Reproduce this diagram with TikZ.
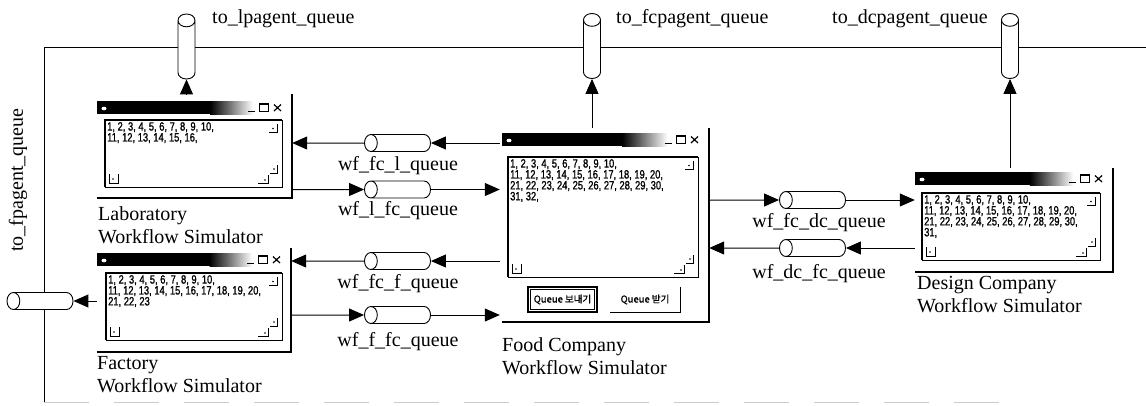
\documentclass[tikz,border=0pt]{standalone}
\usepackage{fontspec}
\setmainfont{Liberation Serif}
\newfontfamily\numfam[FakeStretch=0.78,FakeBold=1.2]{Liberation Sans}
\newfontfamily\krfam[FakeBold=1.2]{Noto Sans CJK KR}
\usetikzlibrary{shapes.geometric,arrows.meta,fit,calc}

\newcommand\simwin[5]{% x1,y1,x2,y2,title top
  \draw[winedge] (#3,#2) -- (#3,#4) -- (#1,#4);
  \fill[black] (#1,#5) rectangle ({#1+(#3-#1)*0.58},#5+13);
  \shade[left color=black,right color=white] ({#1+(#3-#1)*0.58},#5) rectangle ({#1+(#3-#1)*0.8},#5+13);
  \fill[white] (#1+7,#5+7.5) ellipse (2.5 and 1.8);
  \draw[line width=1.3] (#3-44,#5+10.5) -- (#3-37,#5+10.5);
  \draw[line width=0.9] (#3-33,#5+2.5) rectangle (#3-24,#5+10.5);
  \draw[line width=1.6] (#3-33,#5+3) -- (#3-24,#5+3);
  \draw[line width=1.2] (#3-18,#5+3.5) -- (#3-11,#5+10) (#3-18,#5+10) -- (#3-11,#5+3.5);
}
\newcommand\simtextbox[4]{% x1,y1,x2,y2
  \draw[line width=0.7] (#1,#2) rectangle (#3,#4);
  \draw[line width=1.5] (#1,#4) -- (#1,#2) -- (#3,#2);
  \draw[scrollmark] (#3-13,#2+12) -- (#3-5,#2+12) -- (#3-5,#2+4);
  \fill (#3-9,#2+8.5) circle (0.9);
  \draw[scrollmark] (#3-12,#4-14) -- (#3-5,#4-14) -- (#3-5,#4-22);
  \fill (#3-8,#4-18) circle (0.9);
  \draw[scrollmark] (#3-24,#4-4) -- (#3-14,#4-4) -- (#3-14,#4-12);
  \fill (#3-17,#4-7) circle (0.9);
  \draw[scrollmark] (#1+4,#4-13) -- (#1+4,#4-4) -- (#1+13,#4-4) -- (#1+13,#4-13);
  \fill (#1+8,#4-8) circle (0.9);
}

\begin{document}
\begin{tikzpicture}[x=1pt,y=-1pt,
  lbl/.style={font=\fontsize{20}{23}\selectfont,inner sep=0pt,align=left},
  nums/.style={font=\numfam\fontsize{12}{9.8}\selectfont,inner sep=0pt,align=left,anchor=north west},
  arr/.style={line width=1,-{Triangle[length=15pt,width=13pt]}},
  hq/.style={cylinder,shape border rotate=180,draw,fill=white,line width=0.9,minimum width=17pt,minimum height=66pt,aspect=0.8,inner xsep=0pt,inner ysep=8pt,anchor=shape center},
  vq/.style={cylinder,shape border rotate=90,draw,fill=white,line width=0.9,minimum width=17pt,minimum height=65pt,aspect=0.8,inner xsep=8pt,inner ysep=0pt,anchor=shape center},
  winedge/.style={line width=1.6},
  scrollmark/.style={line width=1},
  win/.style={inner sep=0pt}]
\useasboundingbox (0,0) rectangle (1146,405);

% bus
\draw[line width=0.8] (1146,47) -- (44,47) -- (44,402);
\draw[line width=0.6,gray!40,dash pattern=on 45pt off 25pt] (44,402) -- (1000,402);

% windows
\node[win,fit={(97,94) (292,198)}] (lab) {};
\simwin{97}{94}{292}{198}{101}
\simtextbox{105}{120}{282}{187}
\node[nums] (labtxt) at (107,122) {1, 2, 3, 4, 5, 6, 7, 8, 9, 10,\\11, 12, 13, 14, 15, 16,};

\node[win,fit={(97,248) (291,352)}] (fact) {};
\simwin{97}{248}{291}{352}{253}
\simtextbox{106}{273}{282}{340}
\node[nums] (facttxt) at (108,275) {1, 2, 3, 4, 5, 6, 7, 8, 9, 10,\\11, 12, 13, 14, 15, 16, 17, 18, 19, 20,\\21, 22, 23};

\node[win,fit={(500,128) (709,322)}] (food) {};
\simwin{502}{128}{709}{322}{133}
\simtextbox{508}{157}{698}{277}
\node[nums] (foodtxt) at (510,159) {1, 2, 3, 4, 5, 6, 7, 8, 9, 10,\\11, 12, 13, 14, 15, 16, 17, 18, 19, 20,\\21, 22, 23, 24, 25, 26, 27, 28, 29, 30,\\31, 32,};
\draw[line width=1.6] (528,287) rectangle (597,312);
\draw[line width=0.6] (530.5,289.5) rectangle (594.5,309.5);
\node[inner sep=0pt,font=\krfam\fontsize{9.5}{10}\selectfont] (btnsend) at (562.5,299.5) {Queue 보내기};
\draw[line width=1] (610,312) -- (680,312) -- (680,287);
\node[inner sep=0pt,font=\krfam\fontsize{9.5}{10}\selectfont] (btnrecv) at (645,299.5) {Queue 받기};

\node[win,fit={(915,168) (1113,272)}] (dc) {};
\simwin{915}{168}{1113}{272}{172}
\simtextbox{922}{193}{1100}{260}
\node[nums] (dctxt) at (924,195) {1, 2, 3, 4, 5, 6, 7, 8, 9, 10,\\11, 12, 13, 14, 15, 16, 17, 18, 19, 20,\\21, 22, 23, 24, 25, 26, 27, 28, 29, 30,\\31,};

% window labels
\node[lbl,anchor=north west] (lablbl) at (98,206) {Laboratory\\Workflow Simulator};
\node[lbl,anchor=north west] (factlbl) at (97,356) {Factory\\Workflow Simulator};
\node[lbl,anchor=north west] (foodlbl) at (502,337) {Food Company\\Workflow Simulator};
\node[lbl,anchor=north west] (dclbl) at (917,276) {Design Company\\Workflow Simulator};

% agent queues
\node[vq] (lpq) at (186.5,46.5) {};
\node[vq] (fcpq) at (592,46) {};
\node[vq] (dcpq) at (1010,46) {};
\node[hq] (fpq) at (40,301) {};
\node[lbl,anchor=base west] (lpqlbl) at (212,23) {to\_lpagent\_queue};
\node[lbl,anchor=base west] (fcpqlbl) at (616,23) {to\_fcpagent\_queue};
\node[lbl,anchor=base west] (dcpqlbl) at (832,23) {to\_dcpagent\_queue};
\node[lbl,rotate=90] (fpqlbl) at (18,180) {to\_fpagent\_queue};

% workflow queues
\node[hq] (fcl) at (397.5,143) {};
\node[hq] (lfc) at (397.5,189.5) {};
\node[hq] (fcf) at (397.5,261) {};
\node[hq] (ffc) at (397.5,315) {};
\node[hq] (fcdc) at (812.5,200) {};
\node[hq] (dcfc) at (812.5,248) {};
\node[lbl,anchor=base] (fcllbl) at (398,170) {wf\_fc\_l\_queue};
\node[lbl,anchor=base] (lfclbl) at (398,215) {wf\_l\_fc\_queue};
\node[lbl,anchor=base] (fcflbl) at (398,288) {wf\_fc\_f\_queue};
\node[lbl,anchor=base] (ffclbl) at (398,346) {wf\_f\_fc\_queue};
\node[lbl,anchor=base] (fcdclbl) at (819,227) {wf\_fc\_dc\_queue};
\node[lbl,anchor=base] (dcfclbl) at (819,278) {wf\_dc\_fc\_queue};

% connectors
\draw[arr] (lpq |- lab.north) -- (lpq.south);
\draw[arr] (fcpq |- food.north) -- (fcpq.south);
\draw[arr] (dcpq |- dc.north) -- (dcpq.south);
\draw[arr] (fact.west |- fpq) -- (fpq.east);

\draw[arr] (food.west |- fcl) -- (fcl.east);
\draw[arr] (fcl.west) -- (lab.east |- fcl);
\draw[arr] (lab.east |- lfc) -- (lfc.west);
\draw[arr] (lfc.east) -- (food.west |- lfc);
\draw[arr] (food.west |- fcf) -- (fcf.east);
\draw[arr] (fcf.west) -- (fact.east |- fcf);
\draw[arr] (fact.east |- ffc) -- (ffc.west);
\draw[arr] (ffc.east) -- (food.west |- ffc);
\draw[arr] (food.east |- fcdc) -- (fcdc.west);
\draw[arr] (fcdc.east) -- (dc.west |- fcdc);
\draw[arr] (dc.west |- dcfc) -- (dcfc.east);
\draw[arr] (dcfc.west) -- (food.east |- dcfc);
\end{tikzpicture}
\end{document}
